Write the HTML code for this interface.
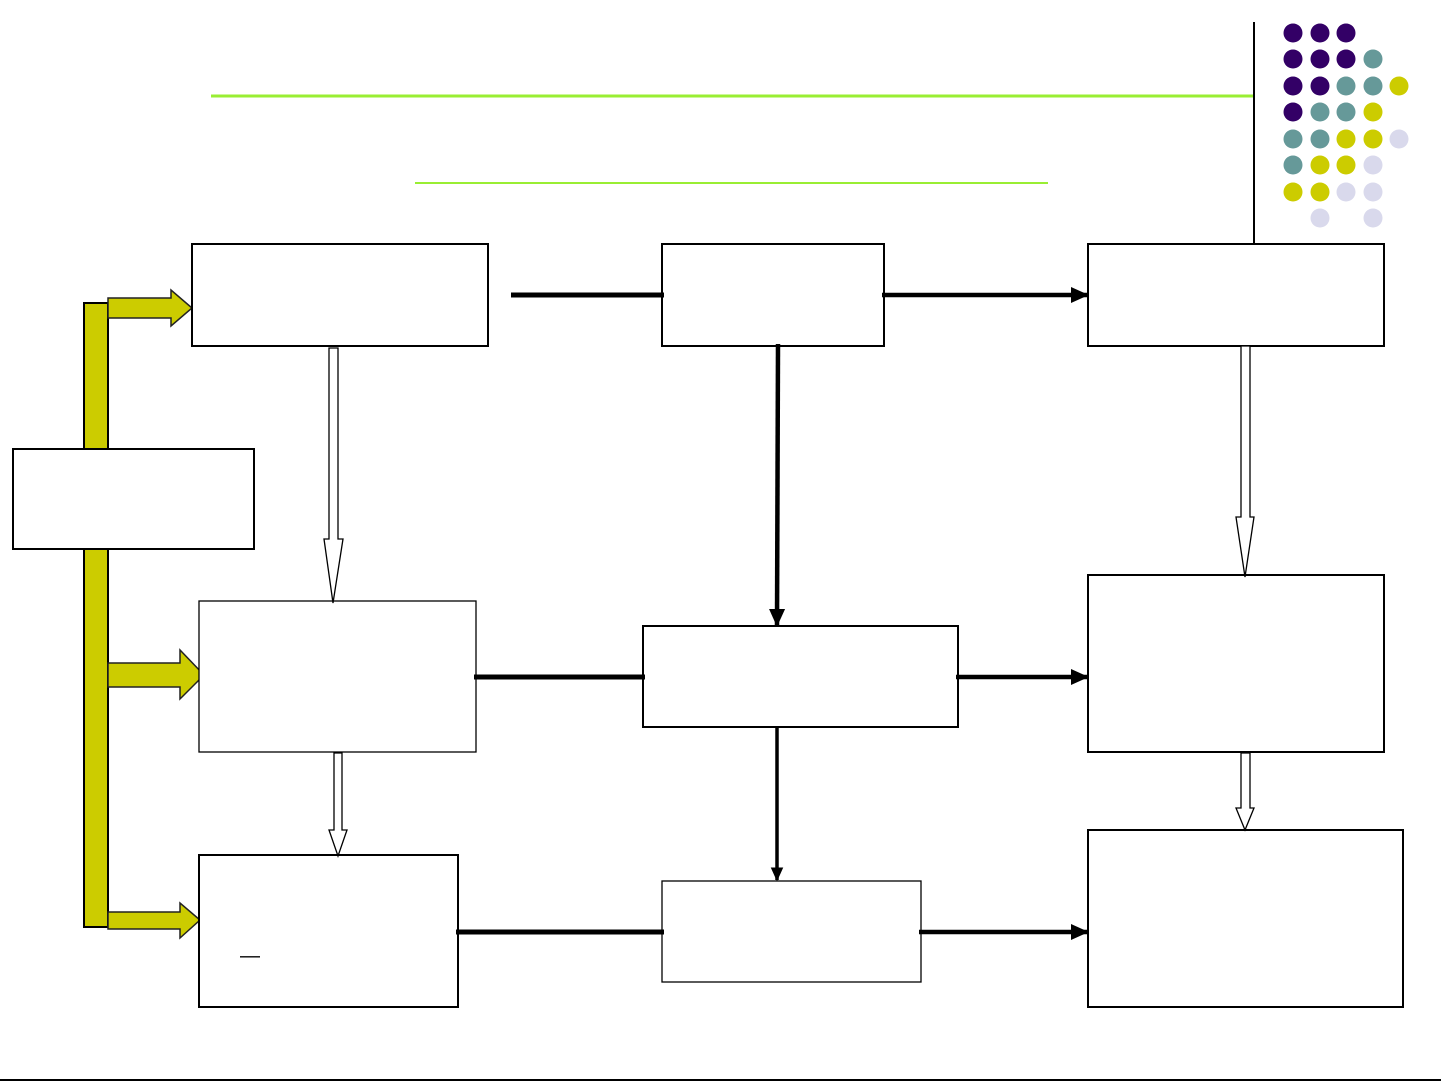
<!DOCTYPE html>
<html><head><meta charset="utf-8"><style>html,body{margin:0;padding:0;background:#fff}svg{display:block}</style></head>
<body>
<svg width="1441" height="1081" viewBox="0 0 1441 1081" xmlns="http://www.w3.org/2000/svg">
<defs>
<marker id="ah" markerWidth="4" markerHeight="4" refX="3.6" refY="2" orient="auto" markerUnits="strokeWidth">
<path d="M0,0.2 L4,2 L0,3.8 Z" fill="#000"/></marker>
</defs>
<rect width="1441" height="1081" fill="#fff"/>
<line x1="211" y1="96" x2="1254" y2="96" stroke="#99ee33" stroke-width="3"/>
<line x1="415" y1="183" x2="1048" y2="183" stroke="#99ee33" stroke-width="2"/>
<line x1="1254" y1="22" x2="1254" y2="243" stroke="#000" stroke-width="2"/>
<line x1="0" y1="1080" x2="1441" y2="1080" stroke="#000" stroke-width="2"/>
<g>
<circle cx="1293" cy="33" r="9.5" fill="#330066"/><circle cx="1320" cy="33" r="9.5" fill="#330066"/><circle cx="1346" cy="33" r="9.5" fill="#330066"/>
<circle cx="1293" cy="59" r="9.5" fill="#330066"/><circle cx="1320" cy="59" r="9.5" fill="#330066"/><circle cx="1346" cy="59" r="9.5" fill="#330066"/><circle cx="1373" cy="59" r="9.5" fill="#669999"/>
<circle cx="1293" cy="86" r="9.5" fill="#330066"/><circle cx="1320" cy="86" r="9.5" fill="#330066"/><circle cx="1346" cy="86" r="9.5" fill="#669999"/><circle cx="1373" cy="86" r="9.5" fill="#669999"/><circle cx="1399" cy="86" r="9.5" fill="#cccc00"/>
<circle cx="1293" cy="112" r="9.5" fill="#330066"/><circle cx="1320" cy="112" r="9.5" fill="#669999"/><circle cx="1346" cy="112" r="9.5" fill="#669999"/><circle cx="1373" cy="112" r="9.5" fill="#cccc00"/>
<circle cx="1293" cy="139" r="9.5" fill="#669999"/><circle cx="1320" cy="139" r="9.5" fill="#669999"/><circle cx="1346" cy="139" r="9.5" fill="#cccc00"/><circle cx="1373" cy="139" r="9.5" fill="#cccc00"/><circle cx="1399" cy="139" r="9.5" fill="#d9d9ec"/>
<circle cx="1293" cy="165" r="9.5" fill="#669999"/><circle cx="1320" cy="165" r="9.5" fill="#cccc00"/><circle cx="1346" cy="165" r="9.5" fill="#cccc00"/><circle cx="1373" cy="165" r="9.5" fill="#d9d9ec"/>
<circle cx="1293" cy="192" r="9.5" fill="#cccc00"/><circle cx="1320" cy="192" r="9.5" fill="#cccc00"/><circle cx="1346" cy="192" r="9.5" fill="#d9d9ec"/><circle cx="1373" cy="192" r="9.5" fill="#d9d9ec"/>
<circle cx="1320" cy="218" r="9.5" fill="#d9d9ec"/><circle cx="1373" cy="218" r="9.5" fill="#d9d9ec"/>
</g>
<rect x="84" y="303" width="24" height="624" fill="#cccc00" stroke="#000" stroke-width="2"/>
<path d="M108,298 H171 V290 L192,308 L171,326 V318 H108 Z" fill="#cccc00" stroke="#222" stroke-width="1.5"/>
<path d="M108,663 H180 V650 L204,675 L180,699 V687 H108 Z" fill="#cccc00" stroke="#222" stroke-width="1.5"/>
<path d="M108,912 H180 V903 L200,920 L180,938 V929 H108 Z" fill="#cccc00" stroke="#222" stroke-width="1.5"/>
<g fill="#fff" stroke="#000" stroke-width="2">
<rect x="192" y="244" width="296" height="102"/>
<rect x="662" y="244" width="222" height="102"/>
<rect x="1088" y="244" width="296" height="102"/>
<rect x="13" y="449" width="241" height="100"/>
<rect x="199" y="601" width="277" height="151" stroke-width="1.3"/>
<rect x="643" y="626" width="315" height="101"/>
<rect x="1088" y="575" width="296" height="177"/>
<rect x="199" y="855" width="259" height="152"/>
<rect x="662" y="881" width="259" height="101" stroke-width="1.3"/>
<rect x="1088" y="830" width="315" height="177"/>
</g>
<text x="240" y="962" font-family="Liberation Sans, sans-serif" font-size="20" fill="#000">—</text>
<g stroke="#000" stroke-width="5" fill="none">
<line x1="511" y1="295" x2="664" y2="295"/>
<line x1="882" y1="295" x2="1087" y2="295" marker-end="url(#ah)" stroke-width="4.5"/>
<line x1="778" y1="344" x2="777" y2="625" marker-end="url(#ah)" stroke-width="4.5"/>
<line x1="474" y1="677" x2="645" y2="677"/>
<line x1="956" y1="677" x2="1087" y2="677" marker-end="url(#ah)" stroke-width="4.5"/>
<line x1="777" y1="727" x2="777" y2="880" marker-end="url(#ah)" stroke-width="3.5"/>
<line x1="456" y1="932" x2="664" y2="932"/>
<line x1="919" y1="932" x2="1087" y2="932" marker-end="url(#ah)" stroke-width="4.5"/>
</g>
<g fill="#fff" stroke="#000" stroke-width="1.3">
<path d="M329,348 H338 V539 H343 L333,603 L324,539 H329 Z"/>
<path d="M334,753 H342 V830 H347 L338,856 L329,830 H334 Z"/>
<path d="M1241,346 H1250 V517 H1254 L1245,577 L1236,517 H1241 Z"/>
<path d="M1241,753 H1250 V808 H1254 L1245,830 L1236,808 H1241 Z"/>
</g>
</svg>
</body></html>
